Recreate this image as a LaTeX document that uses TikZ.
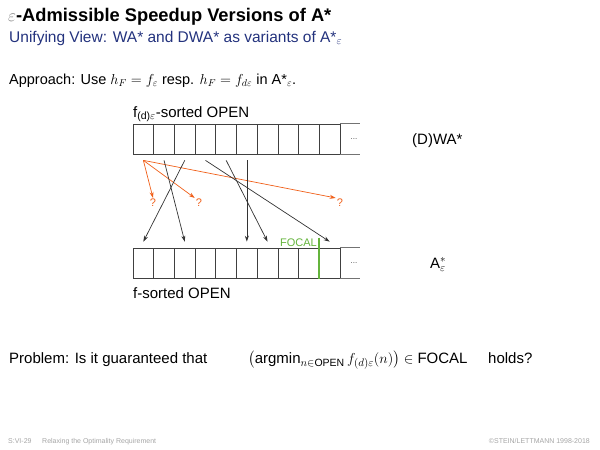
\documentclass[tikz,border=0pt]{standalone}
\usepackage{fontspec}
\setmainfont{Liberation Sans}
\usepackage{amsmath}
\usetikzlibrary{arrows.meta, positioning, calc}
\definecolor{slideblue}{RGB}{35,50,125}
\definecolor{askorange}{RGB}{240,95,25}
\definecolor{focalgreen}{RGB}{100,180,60}
\definecolor{footgray}{RGB}{165,165,165}

\begin{document}
\begin{tikzpicture}[x=1pt, y=1pt,
    title/.style={font=\fontsize{18.3}{22}\selectfont\bfseries, anchor=base west, inner sep=0pt},
    subtitle/.style={font=\fontsize{15.5}{18}\selectfont, text=slideblue, anchor=base west, inner sep=0pt},
    body/.style={font=\fontsize{14.5}{17}\selectfont, anchor=base west, inner sep=0pt},
    question/.style={font=\fontsize{15}{18}\selectfont, anchor=base west, inner sep=0pt},
    label/.style={font=\fontsize{15}{18}\selectfont, anchor=base west, inner sep=0pt},
    cell/.style={rectangle, draw=black!75, line width=0.7pt, minimum width=20.7pt, minimum height=30pt, inner sep=0pt},
    dots/.style={font=\fontsize{8}{9}\selectfont, text=black!70, inner sep=0pt},
    move/.style={-{Stealth[length=6pt, width=4pt]}, line width=0.7pt, black!80},
    ask/.style={-{Stealth[length=6pt, width=4pt]}, line width=0.7pt, askorange},
    qmark/.style={font=\fontsize{11}{13}\selectfont, text=askorange, inner sep=1pt},
    foot/.style={font=\fontsize{7}{8}\selectfont, text=footgray, inner sep=0pt}
]
    \useasboundingbox (0,0) rectangle (600,-450);

    % Heading
    \node[title] (head) at (8,-21) {\textcolor{gray}{\mdseries$\varepsilon$}-Admissible Speedup Versions of A*};
    \node[subtitle] (subhead) at (9,-42) {Unifying View: WA* and DWA* as variants of A*$_\varepsilon$};
    \node[body] (approach) at (9,-84) {Approach: Use $h_F = f_\varepsilon$ resp. $h_F = f_{d\varepsilon}$ in A*$_\varepsilon$.};

    % OPEN lists
    \foreach \i in {0,...,9} {
        \node[cell] (t\i) at (143.35+20.7*\i,-139) {};
        \node[cell] (b\i) at (143.35+20.7*\i,-263) {};
    }
    \draw[line width=0.7pt, black!55] (t9.north east) -- ++(20,0) (t9.south east) -- ++(20,0);
    \draw[line width=0.7pt, black!55] (b9.north east) -- ++(20,0) (b9.south east) -- ++(20,0);
    \node[dots] (tdots) at (354,-139) {...};
    \node[dots] (bdots) at (354,-263) {...};

    \node[label] (toplabel) at (133,-117) {f\textsubscript{(d)$\varepsilon$}-sorted OPEN};
    \node[label] (botlabel) at (133,-298) {f-sorted OPEN};
    \node[label] (wa) at (412,-144) {(D)WA*};
    \node[label] (ae) at (430,-268) {A$^*_\varepsilon$};

    % Focal boundary
    \coordinate (focaltop) at ([yshift=10pt]b9.north west);
    \draw[focalgreen, line width=1.2pt] (focaltop) -- ([yshift=-1pt]b9.south west);
    \node[font=\fontsize{11}{13}\selectfont, text=focalgreen, anchor=base east, inner sep=0pt] (focal)
        at ([xshift=-2pt, yshift=1pt]b9.north west) {FOCAL};

    % Unknown positions
    \node[qmark] (q1) at (153,-203) {?};
    \node[qmark] (q2) at (199,-203) {?};
    \node[qmark] (q3) at (340,-203) {?};
    \draw[ask] ([yshift=-6pt]t0.south) -- (q1.north);
    \draw[ask] ([yshift=-6pt]t0.south) -- (q2.north west);
    \draw[ask] ([yshift=-6pt]t0.south) -- (q3.north west);

    % Moves between lists
    \draw[move] ([yshift=-6pt]t1.south) -- ([yshift=6pt]b2.north);
    \draw[move] ([yshift=-6pt]t2.south) -- ([yshift=6pt]b0.north);
    \draw[move] ([yshift=-6pt]t3.south) -- ([yshift=6pt]b9.north);
    \draw[move] ([yshift=-6pt]t4.south) -- ([yshift=6pt]b6.north);
    \draw[move] ([yshift=-6pt]t5.south) -- ([yshift=6pt]b5.north);

    % Question
    \node[question] (problem) at (9,-363) {Problem: Is it guaranteed that};
    \node[question] (claim) at (248,-363) {$\bigl(\text{argmin}_{n\in\text{OPEN}}\, f_{(d)\varepsilon}(n)\bigr) \in \text{FOCAL}$};
    \node[question] (holds) at (488,-363) {holds?};

    % Footer
    \node[foot, anchor=base west] (slideno) at (8,-443) {S:VI-29};
    \node[foot, anchor=base west] (chapter) at (42,-443) {Relaxing the Optimality Requirement};
    \node[foot, anchor=base east] (copy) at (590,-443) {\textcopyright STEIN/LETTMANN 1998-2018};
\end{tikzpicture}
\end{document}
